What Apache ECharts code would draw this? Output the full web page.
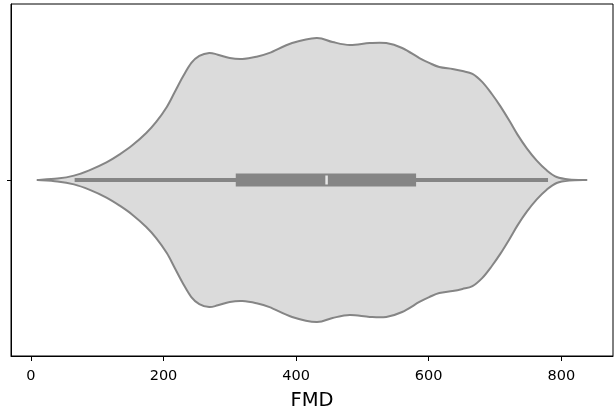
<!DOCTYPE html>
<html>
<head>
<meta charset="utf-8">
<script src="https://cdn.jsdelivr.net/npm/echarts@6/dist/echarts.min.js"></script>
<style>html,body{margin:0;padding:0;background:#fff}#c{width:615px;height:411px}</style>
</head>
<body>
<div id="c"></div>
<script>
// FMD values along the violin and its half-width (density, scaled so max half-width = 0.4 of the category band)
const fmdValues = [10, 40, 65, 88, 114, 134, 153, 174, 189, 205, 217, 229, 242, 254, 269, 282, 300, 319, 340, 360, 394, 431, 455, 481, 511, 536, 560, 586, 601, 616, 636, 651, 666, 681, 695, 708, 722, 734, 748, 763, 778, 793, 812, 838];
const halfWidth = [0, 0.008, 0.025, 0.055, 0.100, 0.146, 0.197, 0.267, 0.330, 0.415, 0.500, 0.585, 0.665, 0.705, 0.722, 0.712, 0.693, 0.688, 0.700, 0.722, 0.778, 0.807, 0.784, 0.767, 0.778, 0.778, 0.750, 0.693, 0.665, 0.642, 0.631, 0.619, 0.603, 0.556, 0.490, 0.420, 0.335, 0.258, 0.180, 0.110, 0.055, 0.017, 0.003, 0];
// box statistics: whisker low, Q1, median, Q3, whisker high
const boxStats = [66, 309, 446, 581, 780];
const xTicks = [0, 200, 400, 600, 800];

const outline = '#858585';
const fill = '#dbdbdb';

// Catmull-Rom curve through points mapped by the chart's own axes
function curveSegments(pts) {
  let d = '';
  for (let i = 0; i < pts.length - 1; i++) {
    const p0 = pts[Math.max(i - 1, 0)], p1 = pts[i], p2 = pts[i + 1], p3 = pts[Math.min(i + 2, pts.length - 1)];
    const c1 = [p1[0] + (p2[0] - p0[0]) / 6, p1[1] + (p2[1] - p0[1]) / 6];
    const c2 = [p2[0] - (p3[0] - p1[0]) / 6, p2[1] - (p3[1] - p1[1]) / 6];
    d += ' C' + c1[0] + ',' + c1[1] + ' ' + c2[0] + ',' + c2[1] + ' ' + p2[0] + ',' + p2[1];
  }
  return d;
}

function renderViolin(params, api) {
  const up = fmdValues.map((v, i) => api.coord([v, halfWidth[i] * 0.5]));
  const lo = fmdValues.map((v, i) => api.coord([v, -halfWidth[i] * 0.5])).reverse();
  const d = 'M' + up[0][0] + ',' + up[0][1] + curveSegments(up) + curveSegments(lo) + ' Z';
  return {
    type: 'path',
    shape: {pathData: d},
    style: {fill: fill, stroke: outline, lineWidth: 2, lineJoin: 'round'}
  };
}

const chart = echarts.init(document.getElementById('c'), null, {renderer: 'canvas'});
chart.setOption({
  animation: false,
  grid: {left: 11, right: 2, top: 4, bottom: 55, outerBoundsMode: 'none', containLabel: false,
         show: true, borderColor: '#000', borderWidth: 1, backgroundColor: 'transparent'},
  xAxis: {
    type: 'value', min: -30, max: 878,
    name: 'FMD', nameLocation: 'middle', nameGap: 35,
    nameTextStyle: {fontSize: 19.5, color: '#000', fontFamily: 'DejaVu Sans'},
    axisLine: {show: true, onZero: false, lineStyle: {color: '#000', width: 1}},
    axisTick: {show: true, customValues: xTicks, length: 5, lineStyle: {color: '#000'}},
    axisLabel: {customValues: xTicks, fontSize: 14.5, color: '#000', margin: 13, fontFamily: 'DejaVu Sans'},
    splitLine: {show: false}
  },
  yAxis: {
    type: 'value', min: -0.5, max: 0.5,
    axisLine: {show: true, onZero: false, lineStyle: {color: '#000', width: 1}},
    axisTick: {show: true, customValues: [0], length: 4, lineStyle: {color: '#000'}},
    axisLabel: {show: false},
    splitLine: {show: false}
  },
  series: [
    {
      type: 'custom', renderItem: renderViolin, data: [[fmdValues[0], 0]], z: 2, silent: true
    },
    {
      type: 'line', data: [[boxStats[0], 0], [boxStats[4], 0]], symbol: 'none',
      lineStyle: {color: outline, width: 4, cap: 'butt'}, z: 3
    },
    {
      type: 'line', data: [[boxStats[1], 0], [boxStats[3], 0]], symbol: 'none',
      lineStyle: {color: outline, width: 13, cap: 'butt'}, z: 4
    },
    {
      type: 'scatter', data: [[boxStats[2], 0]], symbol: 'rect', symbolSize: [2.5, 9],
      itemStyle: {color: '#ffffff'}, z: 5
    }
  ]
});
</script>
</body>
</html>
